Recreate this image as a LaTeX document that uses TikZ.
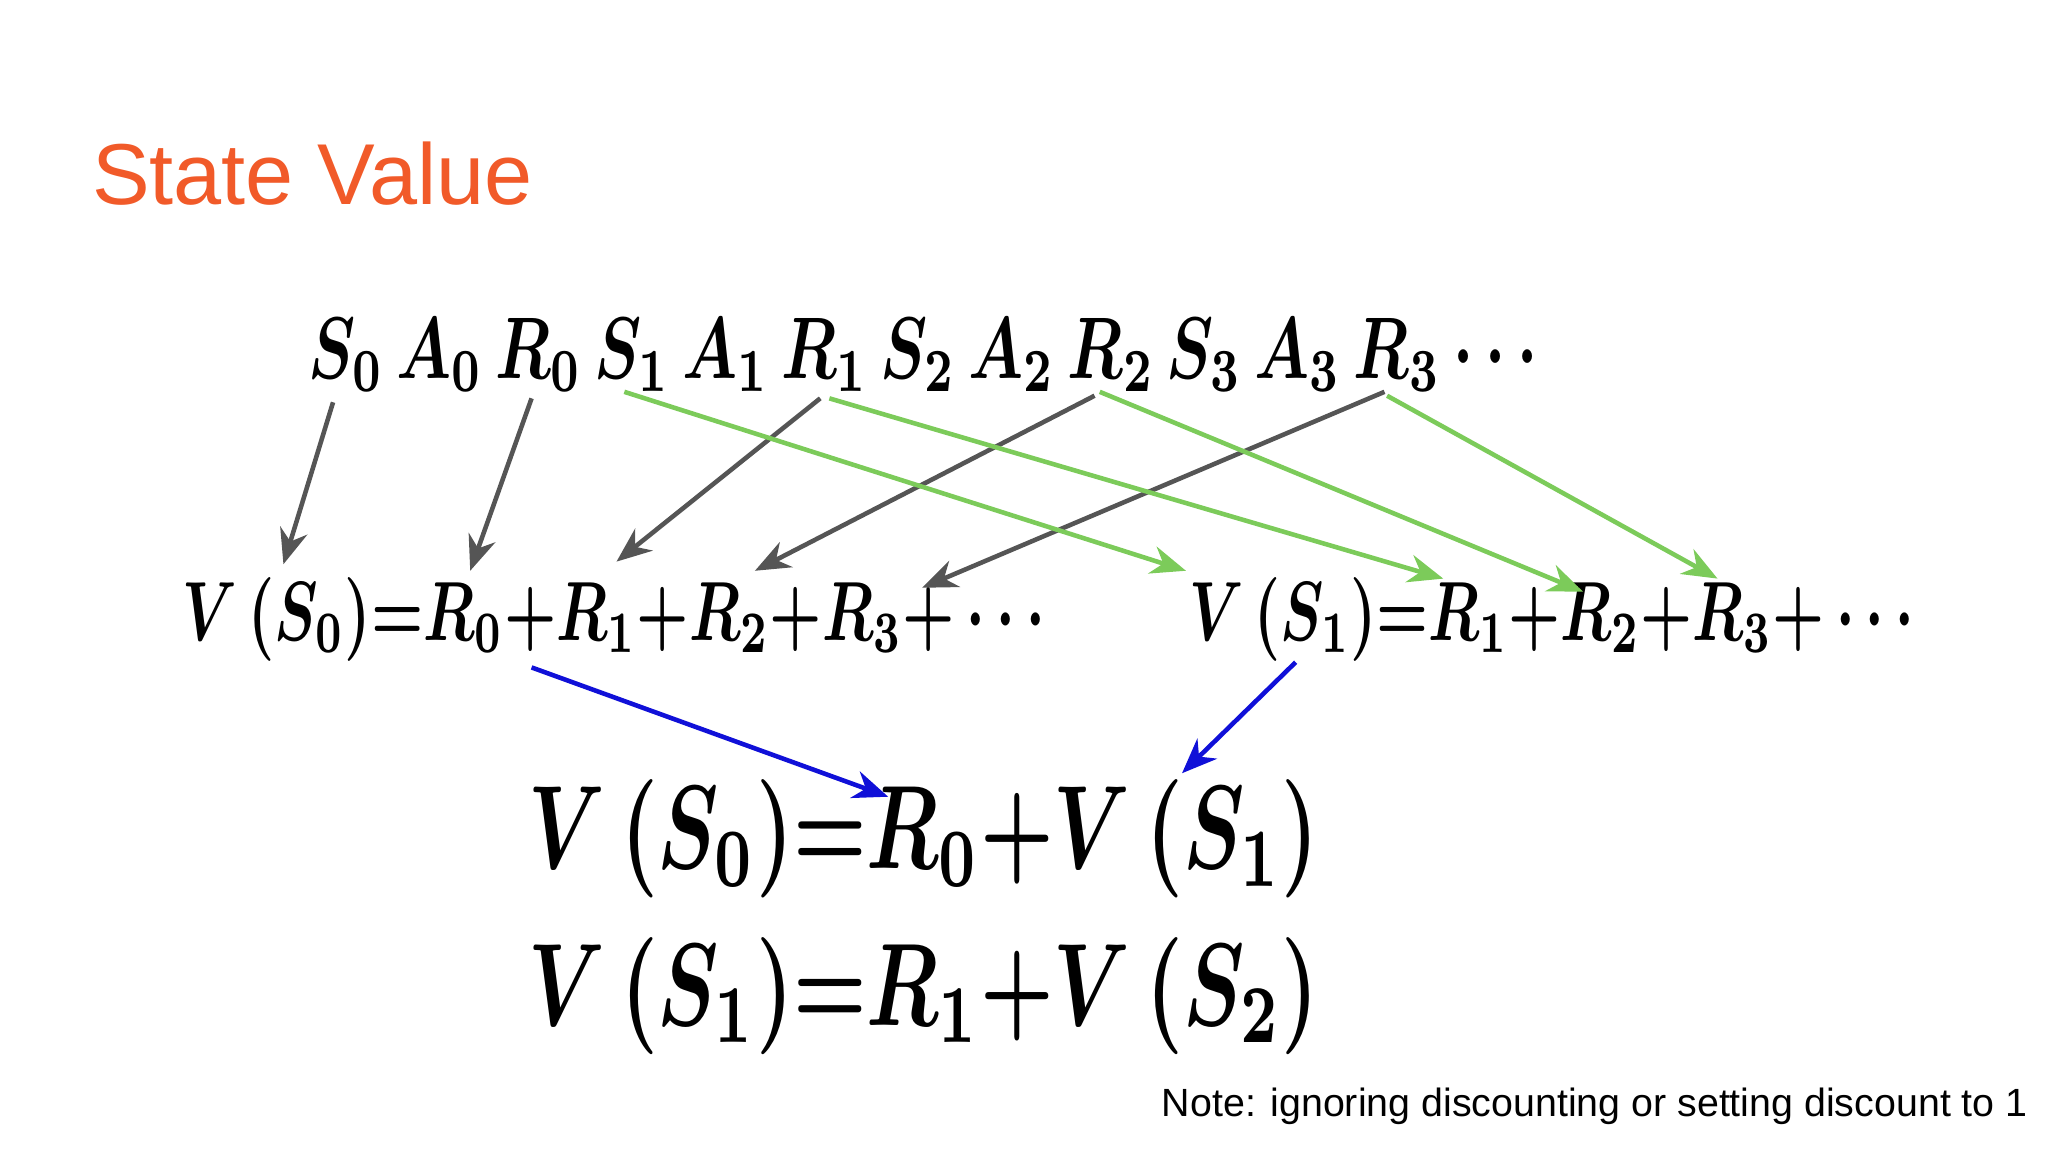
\documentclass[tikz,border=0pt]{standalone}
\usepackage{fontspec}
\usepackage{graphicx}
\setsansfont{Liberation Sans}
\definecolor{ttl}{HTML}{F15A29}
\definecolor{grn}{HTML}{7CCB5A}
\definecolor{gry}{HTML}{555555}
\definecolor{blu}{HTML}{1010D8}
\usetikzlibrary{arrows.meta}
\tikzset{
 garr/.style={draw=gry,line width=1.3pt,-{Stealth[length=10pt,width=8pt]}},
 grarr/.style={draw=grn,line width=1.3pt,-{Stealth[length=10pt,width=8pt]}},
 barr/.style={draw=blu,line width=1.3pt,-{Stealth[length=10pt,width=8pt]}},
 eq/.style={inner sep=0pt,anchor=base}
}
\begin{document}
\begin{tikzpicture}[x=0.01306cm,y=-0.01306cm]
\useasboundingbox (0,0) rectangle (1568,882);
\node[anchor=west,inner sep=0pt,text=ttl,font=\sffamily\fontsize{24.6}{28}\selectfont] (title) at (70,133) {State Value};
\node[eq] (seq) at (707,290) {\resizebox{12.29cm}{0.6cm}{\boldmath$S_0\,A_0\,R_0\,S_1\,A_1\,R_1\,S_2\,A_2\,R_2\,S_3\,A_3\,R_3\cdots$}};
\node[eq] (eqa) at (470,490) {\resizebox{8.62cm}{0.63cm}{\boldmath$V\,(S_0){=}R_0{+}R_1{+}R_2{+}R_3{+}\cdots$}};
\node[eq] (eqb) at (1188,490) {\resizebox{7.25cm}{0.63cm}{\boldmath$V\,(S_1){=}R_1{+}R_2{+}R_3{+}\cdots$}};
\node[eq] (eqc) at (707,665) {\resizebox{7.9cm}{0.89cm}{\boldmath$V\,(S_0){=}R_0{+}V\,(S_1)$}};
\node[eq] (eqd) at (707,785) {\resizebox{7.9cm}{0.88cm}{\boldmath$V\,(S_1){=}R_1{+}V\,(S_2)$}};
\node[anchor=east,inner sep=0pt,font=\sffamily\fontsize{11.2}{14}\selectfont] (note) at (1553,847) {Note: ignoring discounting or setting discount to 1};
\coordinate (s0) at (255,308); \coordinate (r0) at (407,305);
\coordinate (r1) at (628,305); \coordinate (r2) at (838,303); \coordinate (r3) at (1060,300);
\coordinate (s1g) at (478,300); \coordinate (r1g) at (635,305); \coordinate (r2g) at (842,300); \coordinate (r3g) at (1062,303);
\coordinate (ts0) at (217,432); \coordinate (tr0) at (360,437); \coordinate (tr1) at (472,430);
\coordinate (tr2) at (578,437); \coordinate (tr3) at (706,450);
\coordinate (ts1) at (908,437); \coordinate (tr1b) at (1105,443); \coordinate (tr2b) at (1212,453); \coordinate (tr3b) at (1315,443);
\coordinate (b1) at (407,511); \coordinate (tb1) at (680,610);
\coordinate (b2) at (992,507); \coordinate (tb2) at (905,592);
\draw[garr] (s0) -- (ts0);
\draw[garr] (r0) -- (tr0);
\draw[garr] (r1) -- (tr1);
\draw[garr] (r2) -- (tr2);
\draw[garr] (r3) -- (tr3);
\draw[grarr] (s1g) -- (ts1);
\draw[grarr] (r1g) -- (tr1b);
\draw[grarr] (r2g) -- (tr2b);
\draw[grarr] (r3g) -- (tr3b);
\draw[barr] (b1) -- (tb1);
\draw[barr] (b2) -- (tb2);
\end{tikzpicture}
\end{document}
